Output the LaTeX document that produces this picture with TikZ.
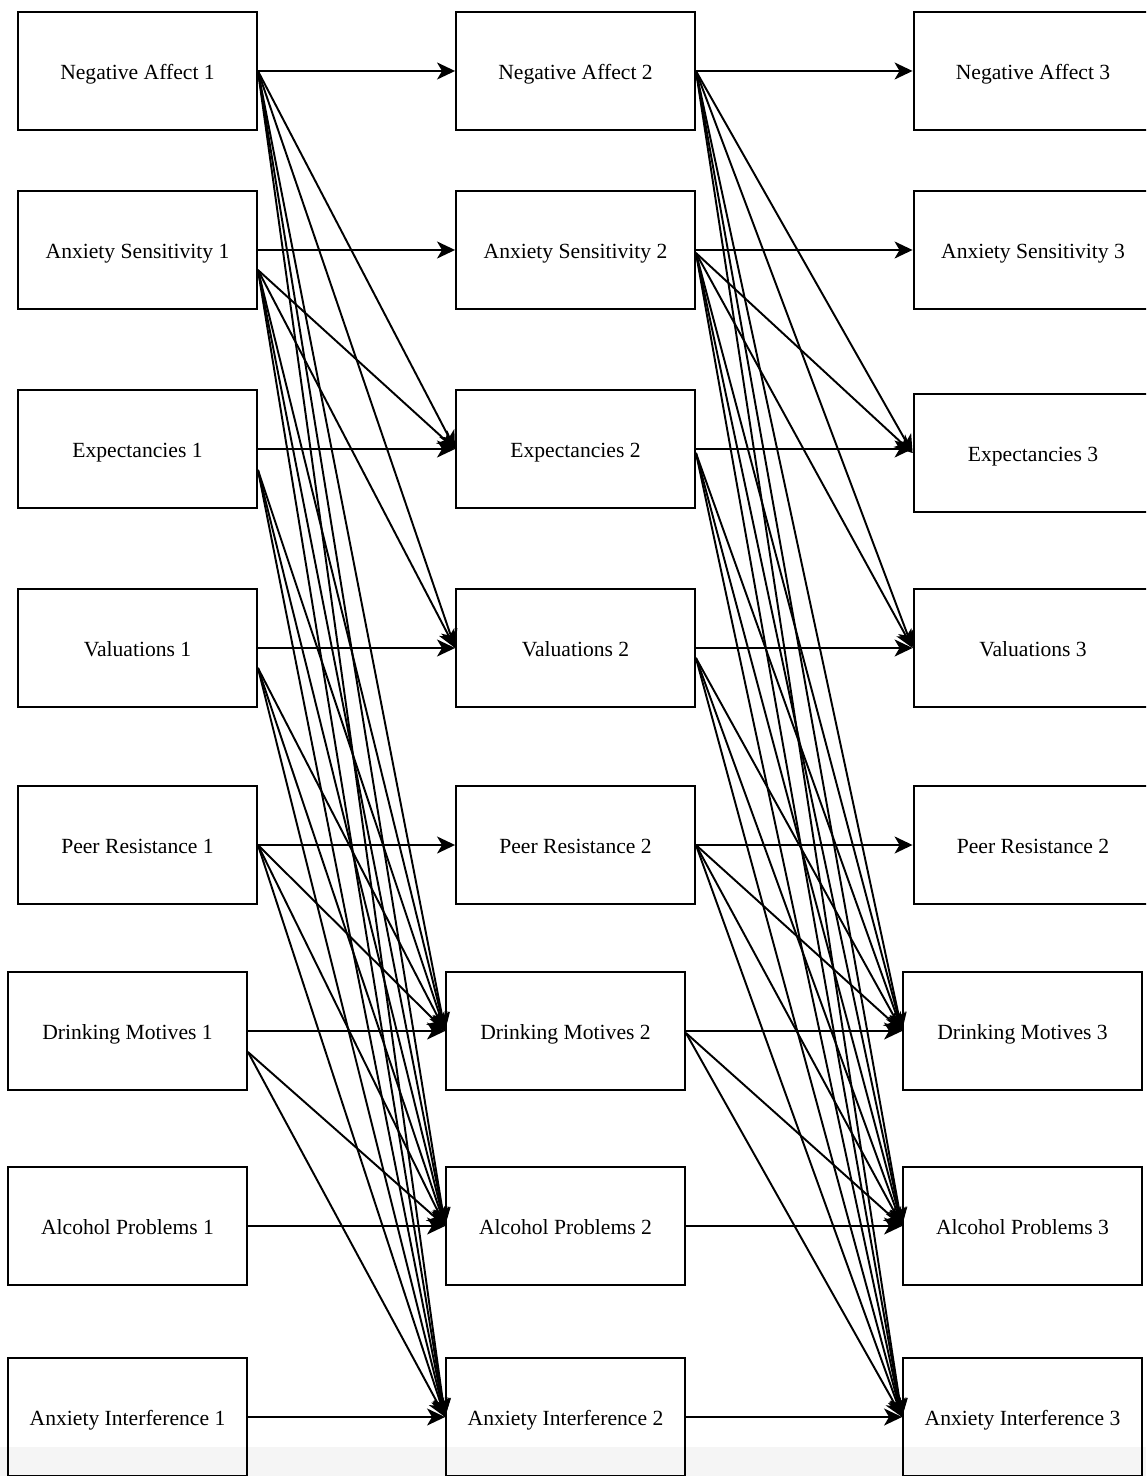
\documentclass[tikz,border=0pt]{standalone}
\usepackage{fontspec}
\setmainfont{Liberation Serif}
\usetikzlibrary{arrows.meta}

\begin{document}
\begin{tikzpicture}[>={Stealth[length=0.36cm, width=0.34cm, inset=0.1cm]},
    x=0.02cm, y=-0.02cm,
    var/.style={draw, line width=1.1pt, minimum width=4.78cm, minimum height=2.36cm,
        inner sep=0pt, text height=10.2pt, text depth=0pt,
        font=\fontsize{12.3}{14}\selectfont},
    link/.style={->, line width=1.1pt}]

    \useasboundingbox (0,0) rectangle (1146,1476);
    \clip (0,0) rectangle (1146,1476);

    % faint band at the bottom edge
    \fill[black!4] (0,1447) rectangle (1146,1476);

    % ==========================================
    % Time 1
    % ==========================================
    \node[var] (na1) at (137.5, 71)  {Negative Affect 1};
    \node[var] (as1) at (137.5, 250) {Anxiety Sensitivity 1};
    \node[var] (ex1) at (137.5, 449) {Expectancies 1};
    \node[var] (va1) at (137.5, 648) {Valuations 1};
    \node[var] (pr1) at (137.5, 845) {Peer Resistance 1};
    \node[var] (dm1) at (127.5, 1031) {Drinking Motives 1};
    \node[var] (ap1) at (127.5, 1226) {Alcohol Problems 1};
    \node[var] (ai1) at (127.5, 1417) {Anxiety Interference 1};

    % ==========================================
    % Time 2
    % ==========================================
    \node[var] (na2) at (575.5, 71)  {Negative Affect 2};
    \node[var] (as2) at (575.5, 250) {Anxiety Sensitivity 2};
    \node[var] (ex2) at (575.5, 449) {Expectancies 2};
    \node[var] (va2) at (575.5, 648) {Valuations 2};
    \node[var] (pr2) at (575.5, 845) {Peer Resistance 2};
    \node[var] (dm2) at (565.5, 1031) {Drinking Motives 2};
    \node[var] (ap2) at (565.5, 1226) {Alcohol Problems 2};
    \node[var] (ai2) at (565.5, 1417) {Anxiety Interference 2};

    % ==========================================
    % Time 3
    % ==========================================
    \node[var] (na3) at (1033, 71)  {Negative Affect 3};
    \node[var] (as3) at (1033, 250) {Anxiety Sensitivity 3};
    \node[var] (ex3) at (1033, 453) {Expectancies 3};
    \node[var] (va3) at (1033, 648) {Valuations 3};
    \node[var] (pr3) at (1033, 845) {Peer Resistance 2};
    \node[var] (dm3) at (1022.5, 1031) {Drinking Motives 3};
    \node[var] (ap3) at (1022.5, 1226) {Alcohol Problems 3};
    \node[var] (ai3) at (1022.5, 1417) {Anxiety Interference 3};

    % ==========================================
    % Stability paths
    % ==========================================
    \foreach \a/\b in {na1/na2, as1/as2, ex1/ex2, va1/va2, pr1/pr2, dm1/dm2, ap1/ap2, ai1/ai2,
                       na2/na3, as2/as3, ex2/ex3, va2/va3, pr2/pr3, dm2/dm3, ap2/ap3, ai2/ai3}
        \draw[link] (\a.east) -- (\a.east -| \b.west);

    % ==========================================
    % Cross-lagged paths, time 1 -> time 2
    % ==========================================
    \foreach \t in {ex2, va2, dm2, ap2, ai2}
        \draw[link] (na1.east) -- (\t.west);
    \foreach \t in {ex2, va2, dm2, ap2, ai2}
        \draw[link] ([yshift=-0.4cm]as1.east) -- (\t.west);
    \foreach \t in {dm2, ap2, ai2} {
        \draw[link] ([yshift=-0.42cm]ex1.east) -- (\t.west);
        \draw[link] ([yshift=-0.4cm]va1.east) -- (\t.west);
        \draw[link] (pr1.east) -- (\t.west);
    }
    \foreach \t in {ap2, ai2}
        \draw[link] ([yshift=-0.42cm]dm1.east) -- (\t.west);

    % ==========================================
    % Cross-lagged paths, time 2 -> time 3
    % ==========================================
    \foreach \t in {ex3, va3, dm3, ap3, ai3} {
        \draw[link] (na2.east) -- (\t.west);
        \draw[link] ([yshift=-0.06cm]as2.east) -- (\t.west);
    }
    \foreach \t in {dm3, ap3, ai3} {
        \draw[link] ([yshift=-0.08cm]ex2.east) -- (\t.west);
        \draw[link] ([yshift=-0.2cm]va2.east) -- (\t.west);
        \draw[link] (pr2.east) -- (\t.west);
    }
    \foreach \t in {ap3, ai3}
        \draw[link] ([yshift=-0.04cm]dm2.east) -- (\t.west);

\end{tikzpicture}
\end{document}
